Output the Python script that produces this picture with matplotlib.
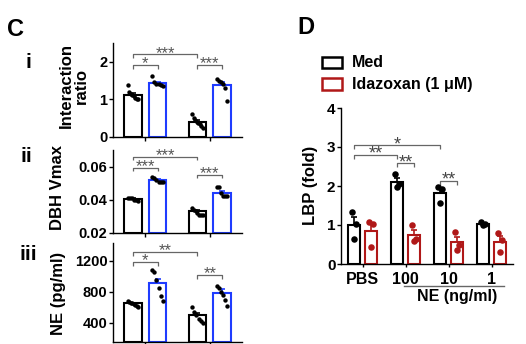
import numpy as np
import matplotlib
matplotlib.use("Agg")
import matplotlib.pyplot as plt
from matplotlib.patches import Rectangle
from matplotlib.lines import Line2D

plt.rcParams['font.family'] = ['Liberation Sans', 'DejaVu Sans']
plt.rcParams['font.weight'] = 'bold'

# ---------------- data: panel C ----------------
c_means_i = [1.12, 1.43, 0.40, 1.37]
c_pts_i = [[1.38, 1.20, 1.15, 1.12, 1.10, 1.05, 1.00, 1.00],
           [1.62, 1.45, 1.42, 1.40, 1.38, 1.35],
           [0.60, 0.50, 0.45, 0.40, 0.38, 0.35, 0.30, 0.25],
           [1.55, 1.50, 1.45, 1.40, 1.30, 0.95]]
c_means_ii = [0.0405, 0.052, 0.033, 0.044]
c_pts_ii = [[0.041, 0.041, 0.041, 0.040, 0.040, 0.039],
            [0.054, 0.053, 0.052, 0.051, 0.051, 0.051],
            [0.035, 0.034, 0.033, 0.032, 0.031, 0.031, 0.031],
            [0.048, 0.048, 0.044, 0.042, 0.042, 0.042]]
c_means_iii = [650, 910, 500, 790]
c_pts_iii = [[680, 670, 660, 650, 640, 630, 620, 610],
             [1080, 1050, 950, 850, 750, 680],
             [600, 540, 500, 450, 430, 400],
             [880, 850, 800, 760, 700, 620]]
c_sem_i = [0.04, 0.04, 0.04, 0.08]
c_sem_ii = [0.0005, 0.0006, 0.0006, 0.0012]
c_sem_iii = [12, 60, 30, 45]

# ---------------- data: panel D ----------------
d_categories = ['PBS', '100', '10', '1']
d_med_means = [1.00, 2.11, 1.82, 1.03]
d_ida_means = [0.85, 0.75, 0.56, 0.57]
d_med_sem = [0.20, 0.10, 0.12, 0.03]
d_ida_sem = [0.20, 0.12, 0.14, 0.14]
d_med_pts = [[1.33, 1.02, 0.65], [2.30, 2.05, 1.98], [1.98, 1.92, 1.57], [1.07, 1.03, 1.00]]
d_ida_pts = [[1.08, 1.03, 0.44], [1.00, 0.65, 0.60], [0.83, 0.50, 0.35], [0.80, 0.62, 0.30]]

BLUE = '#1f3cff'
RED = '#b01818'
GRAY = '#666666'

W, H = 526, 344
fig = plt.figure(figsize=(W / 100, H / 100), dpi=100)


def rect(l, t, r, b):
    return [l / W, 1 - b / H, (r - l) / W, (b - t) / H]


def fx(p):
    return p / W


def fy(p):
    return 1 - p / H


def style_ax(ax, lw=1.0):
    for s in ['top', 'right']:
        ax.spines[s].set_visible(False)
    for s in ['left', 'bottom']:
        ax.spines[s].set_linewidth(lw)
    ax.tick_params(axis='both', direction='out', length=3, width=lw, pad=1)


def bracket(ax, x1, x2, y, text, h, fs=12, color=GRAY, tcol='#555555', lw=0.9):
    ax.plot([x1, x1, x2, x2], [y - h, y, y, y - h], color=color, lw=lw,
            clip_on=False, solid_capstyle='butt')
    ax.annotate(text, xy=((x1 + x2) / 2, y), xytext=(0, -0.22 * fs),
                textcoords='offset points', ha='center', va='baseline', fontsize=fs,
                color=tcol, fontweight='normal', annotation_clip=False)


def panel_c(ax, means, sems, pts, ylim, yticks, yfmt, brackets):
    off, w = 0.19, 0.27
    xs = [0 - off, 0 + off, 1 - off, 1 + off]
    cols = ['black', BLUE, 'black', BLUE]
    for x, m, s, p, c in zip(xs, means, sems, pts, cols):
        ax.bar(x, m - ylim[0], bottom=ylim[0], width=w, facecolor='white', edgecolor=c,
               linewidth=1.5, zorder=2)
        ax.errorbar(x, m, yerr=[[0], [s]], color=c, capsize=2.5, elinewidth=1.2,
                    capthick=1.2, zorder=3)
        n = len(p)
        jx = np.linspace(-w * 0.3, w * 0.3, n)
        ax.scatter(x + jx, p, s=10, color='black', zorder=4, linewidths=0)
    ax.set_xlim(-0.5, 1.5)
    ax.set_ylim(*ylim)
    ax.set_yticks(yticks)
    ax.set_yticklabels([yfmt(v) for v in yticks], fontsize=10.5, fontweight='bold')
    ax.set_xticks([0, 1])
    ax.set_xticklabels(['', ''])
    style_ax(ax)
    h = (ylim[1] - ylim[0]) * 0.04
    for (i1, i2, y, t) in brackets:
        bracket(ax, xs[i1], xs[i2], y, t, h)


ax1 = fig.add_axes(rect(113, 43, 242, 137))
panel_c(ax1, c_means_i, c_sem_i, c_pts_i, (0, 2.5), [0, 1, 2], lambda v: f"{v:g}",
        [(0, 2, 2.2, '***'), (0, 1, 1.92, '*'), (2, 3, 1.92, '***')])
ax2 = fig.add_axes(rect(113, 150, 242, 233))
panel_c(ax2, c_means_ii, c_sem_ii, c_pts_ii, (0.02, 0.07), [0.02, 0.04, 0.06],
        lambda v: f"{v:.2f}",
        [(0, 2, 0.066, '***'), (0, 1, 0.0594, '***'), (2, 3, 0.055, '***')])
ax3 = fig.add_axes(rect(113, 243, 242, 341.5))
panel_c(ax3, c_means_iii, c_sem_iii, c_pts_iii, (160, 1430), [400, 800, 1200],
        lambda v: f"{v:g}",
        [(0, 2, 1316, '**'), (0, 1, 1187, '*'), (2, 3, 1019, '**')])

fig.text(fx(16), fy(29), 'C', fontsize=17, fontweight='bold', ha='center', va='center')
fig.text(fx(28), fy(63), 'i', fontsize=15, fontweight='bold', ha='center', va='center')
fig.text(fx(26), fy(157), 'ii', fontsize=15, fontweight='bold', ha='center', va='center')
fig.text(fx(28), fy(255), 'iii', fontsize=15, fontweight='bold', ha='center', va='center')
fig.text(fx(74), fy(86), 'Interaction\nratio', fontsize=12, fontweight='bold', ha='center',
         va='center', rotation=90, linespacing=1.0)
fig.text(fx(58), fy(188), 'DBH Vmax', fontsize=12, fontweight='bold', ha='center',
         va='center', rotation=90)
fig.text(fx(58), fy(293), 'NE (pg/ml)', fontsize=12, fontweight='bold', ha='center',
         va='center', rotation=90)

# ---------------- panel D ----------------
axd = fig.add_axes(rect(341, 108, 513, 264))
off, w = 0.19, 0.28
xc = np.arange(len(d_categories))
for i in range(len(d_categories)):
    for x, m, s, p, c in [(xc[i] - off, d_med_means[i], d_med_sem[i], d_med_pts[i], 'black'),
                          (xc[i] + off, d_ida_means[i], d_ida_sem[i], d_ida_pts[i], RED)]:
        axd.bar(x, m, width=w, facecolor='white', edgecolor=c, linewidth=1.5, zorder=2)
        axd.errorbar(x, m, yerr=[[0], [s]], color=c, capsize=2.5, elinewidth=1.2,
                     capthick=1.2, zorder=3)
        jx = np.array([-0.05, 0.05, 0.0]) if len(p) == 3 else np.zeros(len(p))
        axd.scatter(x + jx, p, s=22, color=c, zorder=4, linewidths=0)
axd.set_xlim(-0.5, 3.5)
axd.set_ylim(0, 4)
axd.set_yticks([0, 1, 2, 3, 4])
axd.set_yticklabels(['0', '1', '2', '3', '4'], fontsize=11, fontweight='bold')
axd.set_xticks(xc)
axd.set_xticklabels(d_categories, fontsize=11.5, fontweight='bold')
style_ax(axd)
axd.tick_params(axis='x', length=2.5, pad=3)
hd = 0.1
dcol = '#444444'
bracket(axd, xc[0] - off, xc[2] - off, 3.05, '*', hd, fs=13, color=GRAY, tcol=dcol)
bracket(axd, xc[0] - off, xc[1] - off, 2.8, '**', hd, fs=13, color=GRAY, tcol=dcol)
bracket(axd, xc[1] - off, xc[1] + off, 2.58, '**', hd, fs=13, color=GRAY, tcol=dcol)
bracket(axd, xc[2] - off, xc[2] + off, 2.13, '**', hd, fs=13, color=GRAY, tcol=dcol)

fig.text(fx(311), fy(185), 'LBP (fold)', fontsize=12, fontweight='bold', ha='center',
         va='center', rotation=90)
fig.text(fx(306), fy(28), 'D', fontsize=17, fontweight='bold', ha='center', va='center')
fig.add_artist(Line2D([fx(404), fx(504)], [fy(286), fy(286)], color=GRAY, lw=1.0))
fig.text(fx(457), fy(297), 'NE (ng/ml)', fontsize=11.5, fontweight='bold', ha='center',
         va='center')

# legend
for (t, b, c, lab) in [(57, 68, 'black', 'Med'), (78, 90, RED, 'Idazoxan (1 \u03bcM)')]:
    fig.add_artist(Rectangle((fx(322), fy(b)), (342 - 322) / W, (b - t) / H,
                             facecolor='white', edgecolor=c, linewidth=1.8))
    fig.text(fx(352), fy((t + b) / 2), lab, fontsize=11.5, fontweight='bold', ha='left',
             va='center')

fig.savefig('out.png', dpi=100)
